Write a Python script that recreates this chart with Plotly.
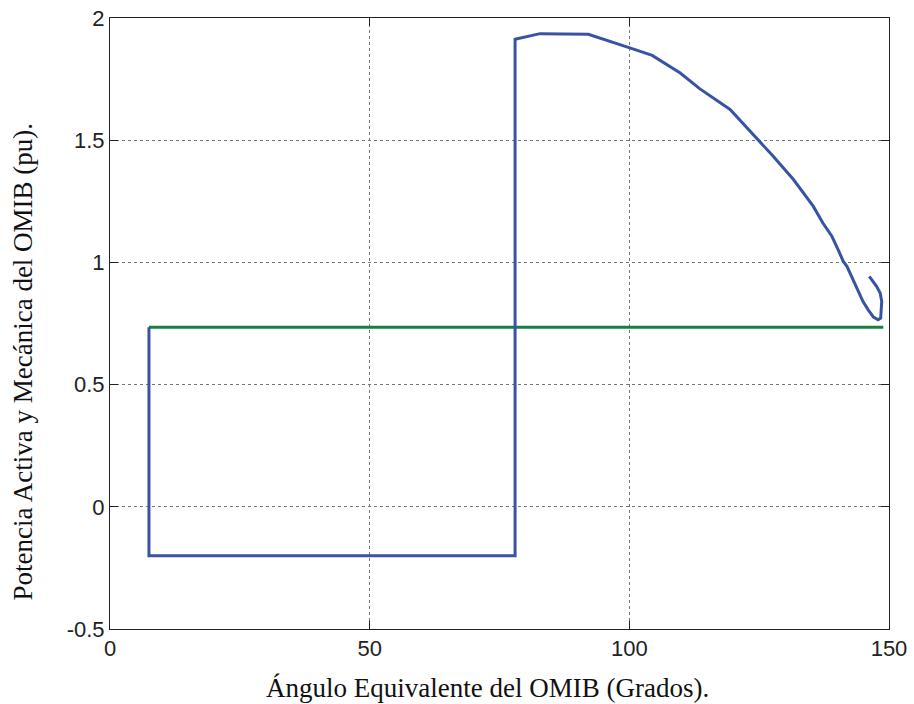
import plotly.graph_objects as go

# Equivalent OMIB angle (degrees) and electrical power (pu) trajectory
delta_deg = [7.5, 7.5, 78.0, 78.0, 82.8, 86.7, 92.1, 99.8, 104.4, 109.8, 113.6,
             119.4, 124.5, 127.7, 131.6, 133.5, 135.4, 137.3, 139.0, 140.2,
             141.2, 141.9, 142.8, 144.1, 145.0, 146.0, 147.0, 147.9, 148.4,
             148.6, 148.3, 147.6, 146.2]
pe_pu = [0.735, -0.2, -0.2, 1.913, 1.936, 1.935, 1.933, 1.880, 1.847, 1.775, 1.71,
         1.626, 1.510, 1.434, 1.339, 1.284, 1.230, 1.160, 1.107, 1.052,
         1.004, 0.984, 0.943, 0.881, 0.840, 0.806, 0.776, 0.765, 0.772,
         0.840, 0.875, 0.902, 0.943]

# Mechanical power (pu), constant over the swing
pm_delta = [7.5, 148.9]
pm_pu = [0.735, 0.735]

x_ticks = [0, 50, 100, 150]
y_ticks = [-0.5, 0, 0.5, 1, 1.5, 2]
y_tick_text = ["-0.5", "0", "0.5", "1", "1.5", "2"]

fig = go.Figure()
fig.add_trace(go.Scatter(x=pm_delta, y=pm_pu, mode="lines",
                         line=dict(color="rgb(22,128,64)", width=3),
                         showlegend=False))
fig.add_trace(go.Scatter(x=delta_deg, y=pe_pu, mode="lines",
                         line=dict(color="rgb(57,83,164)", width=3),
                         showlegend=False))

axis_common = dict(showline=True, linecolor="#222", linewidth=1, mirror="ticks",
                   ticks="inside", ticklen=8, tickcolor="#222", tickwidth=1,
                   showgrid=True, gridcolor="#777", griddash="dot", gridwidth=1,
                   zeroline=False, automargin=False,
                   tickfont=dict(family="Liberation Sans, Arial", size=22, color="#222"))

fig.update_xaxes(range=[0, 150], tickvals=x_ticks, ticktext=[str(v) for v in x_ticks],
                 **axis_common)
fig.update_yaxes(range=[-0.5, 2], tickvals=y_ticks, ticktext=y_tick_text,
                 **axis_common)

fig.add_annotation(text="Ángulo Equivalente del OMIB (Grados).",
                   xref="paper", yref="paper", x=0.4846, y=0,
                   xanchor="center", yanchor="middle", showarrow=False,
                   yshift=-59,
                   font=dict(family="Liberation Serif, Times New Roman", size=27, color="#111"))
fig.add_annotation(text="Potencia Activa y Mecánica del OMIB (pu).",
                   xref="paper", yref="paper", x=0, y=0.5, textangle=-90,
                   xanchor="center", yanchor="middle", showarrow=False,
                   xshift=-88, yshift=-38,
                   font=dict(family="Liberation Serif, Times New Roman", size=27, color="#111"))

fig.update_layout(width=914, height=704, plot_bgcolor="white", paper_bgcolor="white",
                  margin=dict(l=110, r=25, t=18, b=75))

fig.write_html("out.html")
